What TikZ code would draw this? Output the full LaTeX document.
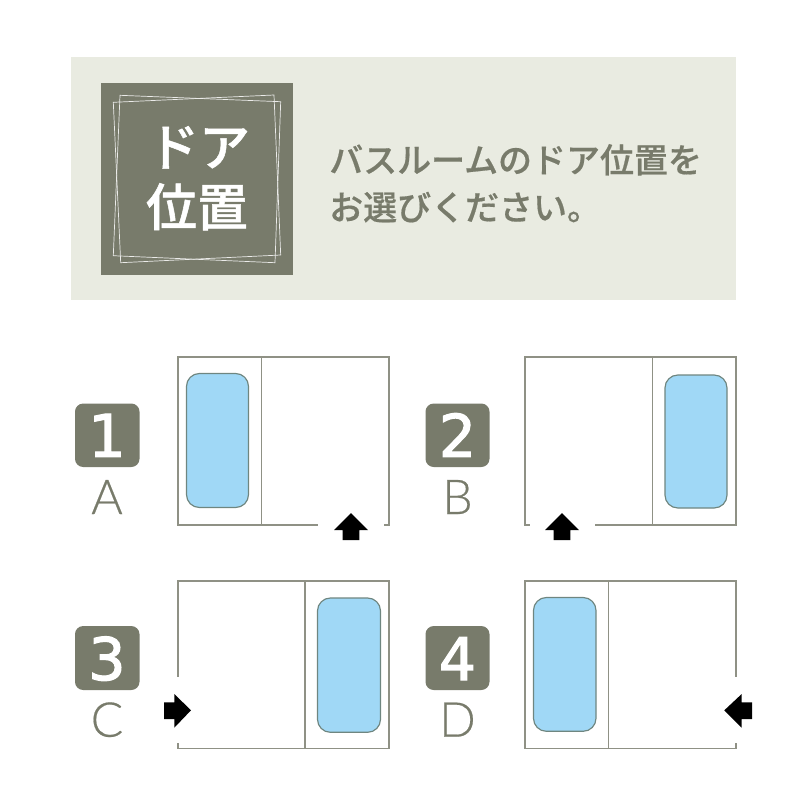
\documentclass[tikz,border=0pt]{standalone}
\usepackage{fontspec}
\newfontfamily\jpfont[FakeBold=0.5]{Noto Sans CJK JP Medium}
\newfontfamily\headfont[FakeBold=1]{Noto Sans CJK JP Medium}
\newfontfamily\digitfont[FakeBold=2]{DejaVu Sans}
\newfontfamily\letterfont[FakeBold=0.4]{Lato Light}
\definecolor{panelgreen}{HTML}{E9EBE1}
\definecolor{olive}{HTML}{787B6B}
\definecolor{wallgrey}{HTML}{8F9185}
\definecolor{tubblue}{HTML}{A0D8F6}
\definecolor{tubedge}{HTML}{6F8680}
\tikzset{
	wall/.style={draw=wallgrey, line width=1.1pt},
	tub/.style={fill=tubblue, draw=tubedge, line width=1pt, rounded corners=11pt},
	badge/.style={fill=olive, rounded corners=7pt},
	frameline/.style={draw=white!85!olive, line width=0.6pt},
	doorarrow/.style={fill=black},
	digit/.style={anchor=base, inner sep=0pt, text=white, font=\digitfont\fontsize{50}{50}\selectfont},
	letter/.style={anchor=base, inner sep=0pt, text=olive, font=\letterfont\fontsize{41}{41}\selectfont},
	heading/.style={anchor=base, inner sep=0pt, text=white, font=\headfont\fontsize{43.5}{50}\selectfont},
	prompt/.style={anchor=base west, inner sep=0pt, text=olive, font=\jpfont\fontsize{29}{34}\selectfont},
}
\begin{document}
\begin{tikzpicture}[x=0.03cm, y=-0.03cm]
	\useasboundingbox (0,0) rectangle (800,800);
	% header
	\fill[panelgreen] (71,57) rectangle (736,300);
	\fill[olive] (101,83) rectangle (293,275);
	\draw[frameline] (120,95.3) -- (280.7,101.7) -- (275,262.7) -- (113.3,255.7) -- cycle;
	\draw[frameline] (113.3,102.3) -- (274,95) -- (280.7,255) -- (120.7,262.7) -- cycle;
	\node[heading] (door) at (199,166) {ドア};
	\node[heading] (position) at (197,226) {位置};
	\node[prompt] (promptone) at (329,172.7) {バスルームのドア位置を};
	\node[prompt] (prompttwo) at (329,220) {お選びください。};
	% room 1
	\draw[wall] (384,525) -- (389,525) -- (389,357) -- (178,357) -- (178,525) -- (318,525);
	\draw[wall] (261.5,357) -- (261.5,525);
	\draw[tub] (186.5,373.5) rectangle (248.5,507.5);
	\fill[doorarrow] (351,513) -- (368,530) -- (359.3,530) -- (359.3,540) -- (342.7,540) -- (342.7,530) -- (334,530) -- cycle;
	\fill[badge] (75,403.5) rectangle (139.5,467);
	\node[digit] (numone) at (107,456.7) {1};
	\node[letter] (nameone) at (107,514) {A};
	% room 2
	\draw[wall] (529.5,525) -- (525,525) -- (525,357) -- (736,357) -- (736,525) -- (595,525);
	\draw[wall] (652.5,357) -- (652.5,525);
	\draw[tub] (665,375) rectangle (727,508);
	\fill[doorarrow] (562,513) -- (579,530) -- (570.3,530) -- (570.3,540) -- (553.7,540) -- (553.7,530) -- (545,530) -- cycle;
	\fill[badge] (425.5,403.5) rectangle (489.5,467);
	\node[digit] (numtwo) at (457.5,456.7) {2};
	\node[letter] (nametwo) at (457.5,514) {B};
	% room 3
	\draw[wall] (178,743.3) -- (178,748.5) -- (389,748.5) -- (389,581) -- (178,581) -- (178,676.7);
	\draw[wall] (305,581) -- (305,748.5);
	\draw[tub] (317.5,598) rectangle (380.5,732.3);
	\fill[doorarrow] (191,710.3) -- (174.3,727.7) -- (174.3,719) -- (164,719) -- (164,702.3) -- (174.3,702.3) -- (174.3,694) -- cycle;
	\fill[badge] (75,626) rectangle (139.5,690);
	\node[digit] (numthree) at (107,680) {3};
	\node[letter] (namethree) at (107,736.7) {C};
	% room 4
	\draw[wall] (736,743.3) -- (736,748.5) -- (525,748.5) -- (525,581) -- (736,581) -- (736,676.7);
	\draw[wall] (608.7,581) -- (608.7,748.5);
	\draw[tub] (533.5,597.5) rectangle (596,731.3);
	\fill[doorarrow] (724.3,710.3) -- (741.7,727.7) -- (741.7,719) -- (752,719) -- (752,702.3) -- (741.7,702.3) -- (741.7,694) -- cycle;
	\fill[badge] (425.5,626) rectangle (489.5,690);
	\node[digit] (numfour) at (457.5,680) {4};
	\node[letter] (namefour) at (457.5,736.7) {D};
\end{tikzpicture}
\end{document}
